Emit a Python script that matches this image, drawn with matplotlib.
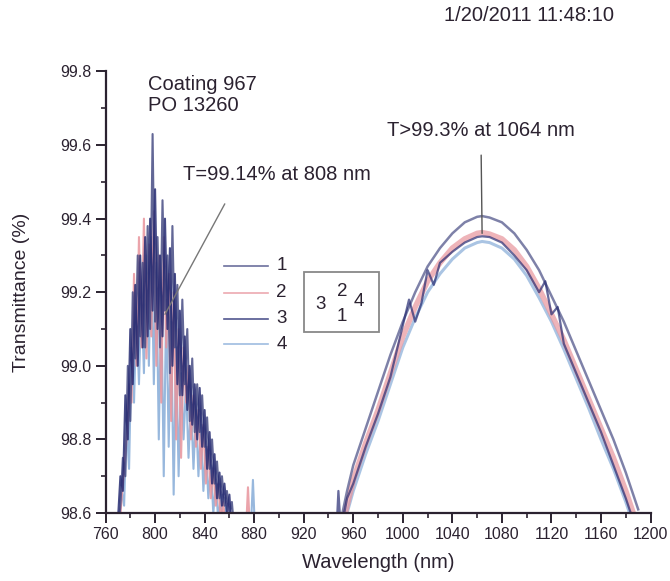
import matplotlib.pyplot as plt
import numpy as np

plt.rcParams['font.family'] = ['Liberation Sans', 'DejaVu Sans']

# --- data --------------------------------------------------------------------
# left band (noisy 770-880 nm), one array per curve, 2 nm steps
t1_left = [98.55, 98.62, 98.75, 98.70, 99.00, 98.85, 99.20, 99.02, 99.30, 99.08,
           99.28, 99.05, 99.38, 99.10, 99.63, 99.12, 99.35, 99.05, 99.45, 99.15,
           99.30, 98.98, 99.38, 99.05, 99.22, 98.92, 99.18, 98.95, 99.10, 98.85,
           99.02, 98.82, 98.95, 98.82, 98.92, 98.78, 98.86, 98.72, 98.80, 98.68,
           98.74, 98.64, 98.70, 98.62, 98.66, 98.60, 98.63, 98.55, 98.58, 98.54,
           98.55, 98.53, 98.54, 98.52, 98.53, 98.52]
t2_left = [98.55, 98.64, 98.72, 98.80, 98.95, 98.90, 99.25, 99.00, 99.35, 99.05,
           99.40, 99.02, 99.33, 99.08, 99.42, 99.00, 99.30, 98.90, 99.35, 99.05,
           99.25, 98.85, 99.20, 98.80, 99.10, 98.75, 99.05, 98.90, 99.00, 98.80,
           98.92, 98.78, 98.88, 98.72, 98.84, 98.68, 98.78, 98.64, 98.72, 98.62,
           98.68, 98.58, 98.63, 98.55, 98.60, 98.54, 98.56, 98.53, 98.55, 98.52,
           98.53, 98.52, 98.67, 98.52, 98.52, 98.52]
t3_left = [98.58, 98.70, 98.66, 98.92, 98.80, 99.10, 98.95, 99.22, 99.00, 99.30,
           99.05, 99.35, 99.08, 99.40, 99.15, 99.48, 99.10, 99.30, 99.08, 99.40,
           99.10, 99.32, 99.00, 99.25, 98.95, 99.15, 98.92, 99.08, 98.88, 99.00,
           98.84, 98.95, 98.80, 98.94, 98.78, 98.88, 98.72, 98.82, 98.68, 98.76,
           98.64, 98.71, 98.62, 98.68, 98.60, 98.65, 98.55, 98.58, 98.54, 98.55,
           98.53, 98.54, 98.52, 98.53, 98.52, 98.52]
t4_left = [98.56, 98.66, 98.62, 98.85, 98.72, 99.05, 98.90, 99.15, 98.95, 99.20,
           98.98, 99.30, 99.00, 99.35, 98.95, 99.28, 98.80, 99.20, 98.70, 99.18,
           98.78, 99.12, 98.65, 99.05, 98.70, 98.98, 98.80, 98.95, 98.75, 98.90,
           98.72, 98.88, 98.70, 98.84, 98.66, 98.78, 98.64, 98.73, 98.60, 98.68,
           98.58, 98.65, 98.55, 98.62, 98.54, 98.59, 98.53, 98.55, 98.52, 98.53,
           98.52, 98.52, 98.52, 98.53, 98.69, 98.52]
wl1_left = np.arange(770.0, 881.0, 2)
wl2_left = np.arange(771.0, 882.0, 2)
wl3_left = np.arange(770.0, 881.0, 2)
wl4_left = np.arange(771.0, 882.0, 2)

# right band (smooth 950-1190 nm)
wl_right = [950, 955, 960, 970, 980, 990, 1000, 1010, 1020, 1030, 1040, 1050, 1060, 1064,
            1070, 1080, 1090, 1100, 1110, 1120, 1130, 1140, 1150, 1160, 1170, 1180, 1185, 1190]
t1_right = [98.58, 98.66, 98.73, 98.83, 98.93, 99.03, 99.12, 99.20, 99.27, 99.32, 99.36, 99.39,
            99.405, 99.407, 99.403, 99.39, 99.36, 99.315, 99.26, 99.19, 99.12, 99.04, 98.96,
            98.88, 98.80, 98.71, 98.66, 98.61]
t2_right = [98.55, 98.62, 98.69, 98.79, 98.88, 98.98, 99.08, 99.16, 99.23, 99.28, 99.32, 99.345,
            99.36, 99.362, 99.358, 99.345, 99.315, 99.27, 99.21, 99.14, 99.07, 98.99, 98.91,
            98.83, 98.75, 98.66, 98.61, 98.56]
t4_right = [98.56, 98.60, 98.66, 98.76, 98.85, 98.95, 99.05, 99.13, 99.20, 99.25, 99.29, 99.32,
            99.335, 99.338, 99.335, 99.32, 99.29, 99.245, 99.185, 99.12, 99.045, 98.965, 98.885,
            98.80, 98.72, 98.63, 98.58, 98.54]
wl3_right = [946, 948, 950, 955, 960, 970, 980, 990, 1000, 1005, 1010, 1015, 1020, 1025, 1030,
             1040, 1050, 1060, 1064, 1070, 1080, 1090, 1100, 1110, 1115, 1120, 1125, 1130,
             1140, 1150, 1160, 1170, 1180, 1185, 1190]
t3_right = [98.52, 98.66, 98.55, 98.64, 98.68, 98.78, 98.87, 98.97, 99.11, 99.18, 99.12, 99.17,
            99.26, 99.22, 99.28, 99.31, 99.335, 99.35, 99.352, 99.35, 99.335, 99.30, 99.26,
            99.20, 99.23, 99.14, 99.16, 99.06, 98.98, 98.90, 98.82, 98.73, 98.64, 98.59, 98.55]

labels = ['1', '2', '3', '4']
colors = ['#474c84', '#e8949c', '#262b72', '#86acd8']
ink = '#2b2230'

fig = plt.figure(figsize=(6.7, 5.81), dpi=100)
ax = fig.add_axes([0.1575, 0.117, 0.8135, 0.760])

lefts = [(wl1_left, t1_left), (wl2_left, t2_left), (wl3_left, t3_left), (wl4_left, t4_left)]
rights = [(wl_right, t1_right), (wl_right, t2_right), (wl3_right, t3_right), (wl_right, t4_right)]
right_lw = [1.8, 4.0, 1.6, 2.2]
for i in [3, 1, 0, 2]:
    ax.plot(lefts[i][0], lefts[i][1], color=colors[i], lw=1.5, alpha=0.85)
    ax.plot(rights[i][0], rights[i][1], color=colors[i], lw=right_lw[i], alpha=0.7)

ax.set_xlim(760, 1200)
ax.set_ylim(98.6, 99.8)
ax.set_xticks(np.arange(760, 1201, 40))
ax.set_xticks(np.arange(760, 1201, 20), minor=True)
ax.set_yticks([98.6, 98.8, 99.0, 99.2, 99.4, 99.6, 99.8])
ax.set_yticks(np.arange(98.6, 99.81, 0.1), minor=True)
ax.yaxis.set_major_formatter(plt.FormatStrFormatter('%.1f'))
for s in ['top', 'right']:
    ax.spines[s].set_visible(False)
for s in ['left', 'bottom']:
    ax.spines[s].set_linewidth(1.6)
    ax.spines[s].set_color(ink)
ax.tick_params(which='major', direction='out', length=7, width=1.4, color=ink,
               labelsize=11.5, labelcolor=ink, pad=3)
ax.tick_params(which='minor', direction='out', length=3.5, width=1.2, color=ink)
ax.set_xlabel('Wavelength (nm)', fontsize=14.5, color=ink, labelpad=8)
ax.set_ylabel('Transmittance (%)', fontsize=14, color=ink, labelpad=22)

txt = dict(fontsize=14.5, color=ink)
ax.text(794, 99.79, 'Coating 967\nPO 13260', va='top', ha='left', linespacing=1.1, **txt)
ax.annotate('T=99.14% at 808 nm', xy=(808, 99.14), xytext=(822.5, 99.52), va='center',
            ha='left', arrowprops=dict(arrowstyle='-', color='#777777', lw=1, shrinkA=14,
                                       shrinkB=0, relpos=(0.28, 0)), **txt)
ax.annotate('T>99.3% at 1064 nm', xy=(1064, 99.36), xytext=(1063, 99.64), va='center',
            ha='center', arrowprops=dict(arrowstyle='-', color='#555555', lw=1, shrinkA=9,
                                         shrinkB=0), **txt)
fig.text(0.79, 0.974, '1/20/2011 11:48:10', ha='center', va='center', **txt)

# legend drawn by hand like the scan
leg_y = [99.272, 99.199, 99.128, 99.058]
for i in range(4):
    ax.plot([856, 891], [leg_y[i]] * 2, color=colors[i], lw=1.2, alpha=0.8)
    ax.text(898, leg_y[i], labels[i], va='center', ha='left', fontsize=13.5, color=ink)
ax.add_patch(plt.Rectangle((920.5, 99.091), 60, 0.163, fill=False, ec='#888888', lw=1.3))
ax.text(933.5, 99.167, '3', ha='center', va='center', fontsize=13.5, color=ink)
ax.text(951, 99.203, '2', ha='center', va='center', fontsize=13.5, color=ink)
ax.text(951, 99.135, '1', ha='center', va='center', fontsize=13.5, color=ink)
ax.text(964.5, 99.175, '4', ha='center', va='center', fontsize=13.5, color=ink)

fig.savefig('out.png', dpi=100)
